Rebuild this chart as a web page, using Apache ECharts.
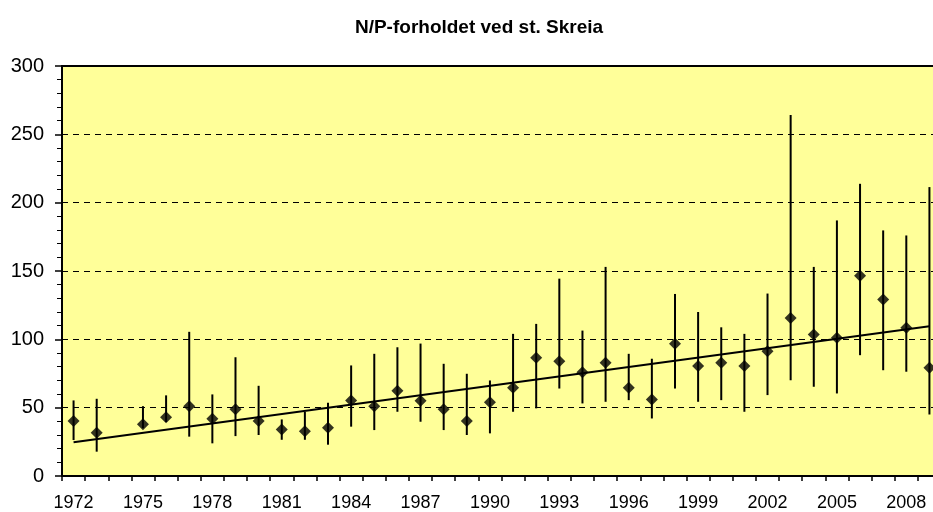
<!DOCTYPE html>
<html>
<head>
<meta charset="utf-8">
<script src="https://cdn.jsdelivr.net/npm/echarts@6/dist/echarts.min.js"></script>
<style>
html, body { margin: 0; padding: 0; background: #fff; overflow: hidden; }
#main { width: 941px; height: 512px; }
</style>
</head>
<body>
<div id="main"></div>
<script>
// N/P-forholdet, st. Skreia
var years = [];
for (var y = 1972; y <= 2009; y++) { years.push(String(y)); }

var meanVal = [40.2, 31.7, null, 37.8, 42.9, 51.1, 41.9, 48.9, 40.2, 34.1,
	32.8, 35.3, 55.3, 51.1, 62.4, 55.1, 48.9, 40.2, 54.0, 64.6,
	86.5, 84.0, 76.0, 82.8, 64.6, 56.0, 96.7, 80.4, 82.8, 80.4,
	91.3, 115.7, 103.5, 101.1, 146.6, 129.1, 108.4, 79.2];
var maxVal = [55.3, 56.5, null, 51.1, 59.0, 105.5, 59.7, 86.9, 66.0, 41.4,
	47.0, 53.6, 80.9, 89.4, 94.2, 96.9, 82.1, 74.8, 69.9, 104.0,
	111.3, 144.4, 106.4, 153.0, 89.4, 85.8, 133.2, 120.0, 108.8, 104.0,
	133.5, 264.2, 153.0, 187.0, 213.8, 179.7, 176.0, 211.4];
var minVal = [26.3, 17.8, null, 35.0, 39.5, 28.8, 23.9, 29.2, 30.0, 26.5,
	26.5, 22.9, 36.1, 33.6, 47.0, 39.7, 33.6, 30.0, 31.2, 47.0,
	49.5, 64.0, 53.1, 54.3, 55.5, 42.1, 64.0, 54.3, 55.5, 47.0,
	59.2, 70.1, 65.3, 60.4, 88.4, 77.4, 76.3, 45.0];
// trend line end points
var trendYears = ['1972', '2009'];
var trendVals = [24.7, 109.6];

var rangeData = [];
for (var i = 0; i < years.length; i++) {
	if (minVal[i] != null) rangeData.push([i, minVal[i], maxVal[i]]);
}
var trendData = [];
for (var k = 0; k < trendYears.length; k++) {
	trendData.push([trendYears[k], trendVals[k]]);
}

var chart = echarts.init(document.getElementById('main'));
var option = {
	backgroundColor: '#ffffff',
	animation: false,
	title: {
		text: 'N/P-forholdet ved st. Skreia',
		left: 474,
		textAlign: 'center',
		top: 13,
		textStyle: {
			fontFamily: 'Liberation Sans, Arial, sans-serif',
			fontSize: 19,
			fontWeight: 'bold',
			color: '#000'
		}
	},
	grid: {
		left: 62,
		top: 66,
		right: 0,
		bottom: 35,
		show: true,
		backgroundColor: '#FFFF99',
		borderColor: '#000',
		borderWidth: 2
	},
	xAxis: {
		type: 'category',
		data: years,
		boundaryGap: true,
		axisLine: { lineStyle: { color: '#000', width: 2 } },
		axisTick: { show: true, interval: 0, length: 5, lineStyle: { color: '#000', width: 1.5 } },
		axisLabel: {
			interval: 2,
			color: '#000',
			fontSize: 18,
			fontFamily: 'Liberation Sans, Arial, sans-serif',
			margin: 18
		},
		splitLine: { show: false }
	},
	yAxis: {
		type: 'value',
		min: 0,
		max: 300,
		interval: 50,
		axisLine: { show: true, lineStyle: { color: '#000', width: 2 } },
		axisTick: { show: true, length: 7, lineStyle: { color: '#000', width: 1.5 } },
		minorTick: { show: true, splitNumber: 5, length: 5, lineStyle: { color: '#000', width: 1 } },
		axisLabel: {
			color: '#000',
			fontSize: 20,
			fontFamily: 'Liberation Sans, Arial, sans-serif',
			margin: 18
		},
		splitLine: { show: true, lineStyle: { color: '#000', type: [6, 5], width: 1 } }
	},
	series: [
		{
			// min-max range
			type: 'custom',
			data: rangeData,
			renderItem: function (params, api) {
				var p1 = api.coord([api.value(0), api.value(1)]);
				var p2 = api.coord([api.value(0), api.value(2)]);
				return {
					type: 'line',
					shape: { x1: p1[0], y1: p1[1], x2: p2[0], y2: p2[1] },
					style: { stroke: '#000', lineWidth: 2 }
				};
			},
			z: 2
		},
		{
			type: 'line',
			data: trendData,
			symbol: 'none',
			lineStyle: { color: '#000', width: 2 },
			z: 3
		},
		{
			type: 'scatter',
			data: meanVal,
			symbol: 'diamond',
			symbolSize: 12,
			itemStyle: { color: '#000' },
			z: 4
		}
	]
};
chart.setOption(option);
</script>
</body>
</html>
